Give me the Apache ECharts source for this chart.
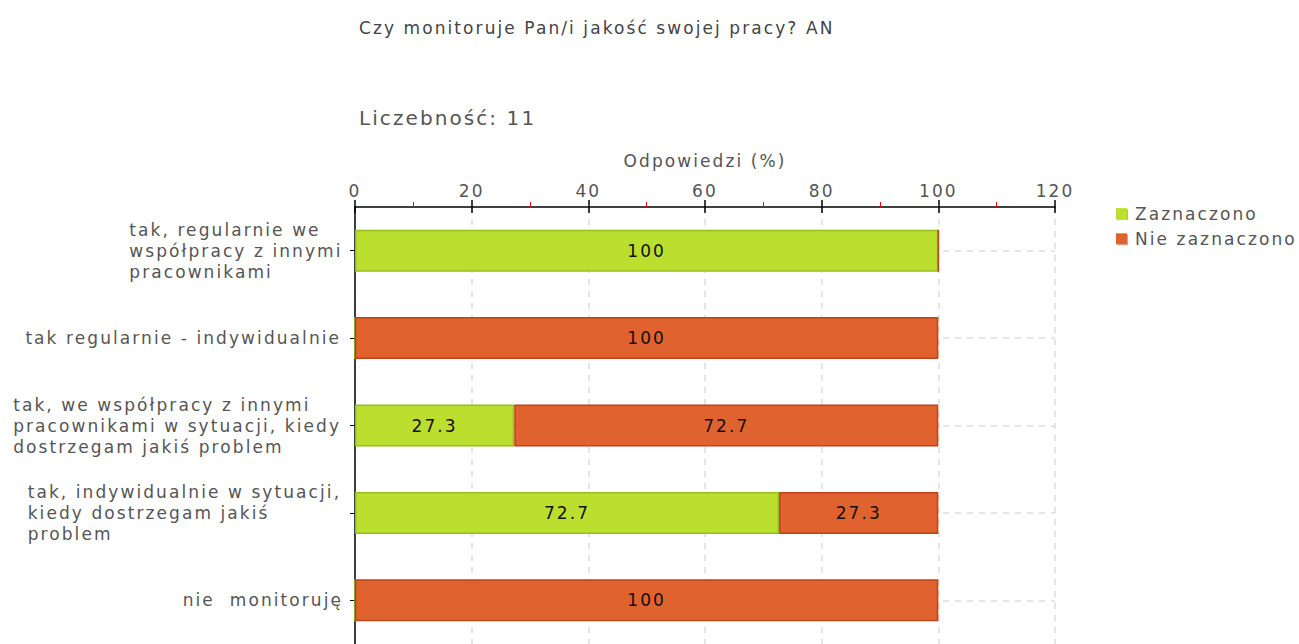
<!DOCTYPE html>
<html>
<head>
<meta charset="utf-8">
<script src="https://cdn.jsdelivr.net/npm/echarts@6/dist/echarts.min.js"></script>
<style>
  html, body { margin: 0; padding: 0; background: #fff; overflow: hidden; }
  /* the source chart draws its text with wide letter spacing */
  #chart { width: 1299px; height: 644px; letter-spacing: 0.13em; }
</style>
</head>
<body>
<div id="chart"></div>
<script>
// data
const categories = [
  'tak, regularnie we\nwspółpracy z innymi\npracownikami',
  'tak regularnie - indywidualnie',
  'tak, we współpracy z innymi\npracownikami w sytuacji, kiedy\ndostrzegam jakiś problem',
  'tak, indywidualnie w sytuacji,\nkiedy dostrzegam jakiś\nproblem',
  'nie  monitoruję'
];
const zaznaczono = [100, 0, 27.3, 72.7, 0];
const nieZaznaczono = [0, 100, 72.7, 27.3, 100];
const seriesNames = ['Zaznaczono', 'Nie zaznaczono'];
const axisTitle = 'Odpowiedzi (%)';
const chartTitle = 'Czy monitoruje Pan/i jakość swojej pracy? AN';
const countLabel = 'Liczebność: 11';

const font = 'DejaVu Sans';
const textColor = '#555';
const spacingEm = 0.13;

// make echarts measure text with the same letter spacing the css adds
const measureCtx = document.createElement('canvas').getContext('2d');
echarts.setPlatformAPI({
  measureText: function (text, f) {
    measureCtx.font = f;
    const m = /(\d+(\.\d+)?)px/.exec(f || '');
    const size = m ? parseFloat(m[1]) : 12;
    return { width: measureCtx.measureText(text).width + text.length * size * spacingEm };
  }
});

var myChart = echarts.init(document.getElementById('chart'), null, { renderer: 'svg' });

const barLabel = {
  show: true,
  position: 'inside',
  color: '#111',
  fontFamily: font,
  fontSize: 17,
  formatter: (p) => p.value === 0 ? '' : String(p.value)
};

myChart.setOption({
  animation: false,
  title: [
    {
      text: chartTitle,
      left: 354,
      top: 13,
      textStyle: { fontFamily: font, fontSize: 17, fontWeight: 'normal', color: '#444' }
    },
    {
      text: countLabel,
      left: 354,
      top: 102,
      textStyle: { fontFamily: font, fontSize: 20, fontWeight: 'normal', color: '#555' }
    }
  ],
  legend: {
    orient: 'vertical',
    left: 1111,
    top: 199,
    itemWidth: 11,
    itemHeight: 11,
    itemGap: 6,
    icon: 'rect',
    itemStyle: { borderWidth: 0, shadowColor: 'rgba(0,0,0,0.3)', shadowOffsetX: 1, shadowOffsetY: 1, shadowBlur: 1 },
    textStyle: { fontFamily: font, fontSize: 17, color: textColor, padding: [0, 0, 0, 3] },
    data: seriesNames
  },
  grid: {
    left: 355,
    right: 244,
    top: 207,
    bottom: -4,
    containLabel: false
  },
  xAxis: [
    {
      type: 'value',
      position: 'top',
      min: 0,
      max: 120,
      interval: 20,
      name: axisTitle,
      nameLocation: 'middle',
      nameGap: 36,
      nameTextStyle: { fontFamily: font, fontSize: 17, color: textColor },
      axisLine: { show: true, lineStyle: { color: '#000', width: 1.5 } },
      axisTick: { show: true, length: 7, lineStyle: { color: '#000', width: 1.5 } },
      minorTick: { show: true, splitNumber: 2, length: 5, lineStyle: { color: '#f00', width: 1 } },
      axisLabel: { fontFamily: font, fontSize: 17, color: textColor, margin: 6 },
      splitLine: { show: true, lineStyle: { color: '#ddd', type: [6, 6], width: 1.5 } }
    },
    {
      // second copy only to draw the major tick marks below the line as well
      type: 'value',
      position: 'top',
      min: 0,
      max: 120,
      interval: 20,
      axisLine: { show: false },
      axisTick: { show: true, inside: true, length: 6, lineStyle: { color: '#000', width: 1.5 } },
      axisLabel: { show: false },
      splitLine: { show: false }
    }
  ],
  yAxis: {
    type: 'category',
    inverse: true,
    data: categories,
    axisLine: { show: true, lineStyle: { color: '#000', width: 1.5 } },
    axisTick: { show: true, alignWithLabel: true, length: 5, lineStyle: { color: '#000' } },
    axisLabel: {
      margin: 10,
      color: textColor,
      fontFamily: font,
      fontSize: 17,
      lineHeight: 21,
      formatter: (v) => v.split('\n').map(l => '{a|' + l + '}').join('\n'),
      rich: {
        a: { align: 'left', fontFamily: font, fontSize: 17, lineHeight: 21, color: textColor }
      }
    },
    splitLine: {
      show: true,
      alignWithLabel: true,
      lineStyle: { color: '#ddd', type: [6, 6], width: 1.5 }
    }
  },
  series: [
    {
      name: seriesNames[0],
      type: 'bar',
      stack: 'total',
      barWidth: 42,
      data: zaznaczono,
      itemStyle: { color: '#bbdf2f', borderColor: '#98bd1e', borderWidth: 1.5 },
      label: barLabel
    },
    {
      name: seriesNames[1],
      type: 'bar',
      stack: 'total',
      barWidth: 42,
      data: nieZaznaczono,
      itemStyle: { color: '#e0622f', borderColor: '#bf431a', borderWidth: 1.5 },
      label: barLabel
    }
  ]
});
</script>
</body>
</html>
